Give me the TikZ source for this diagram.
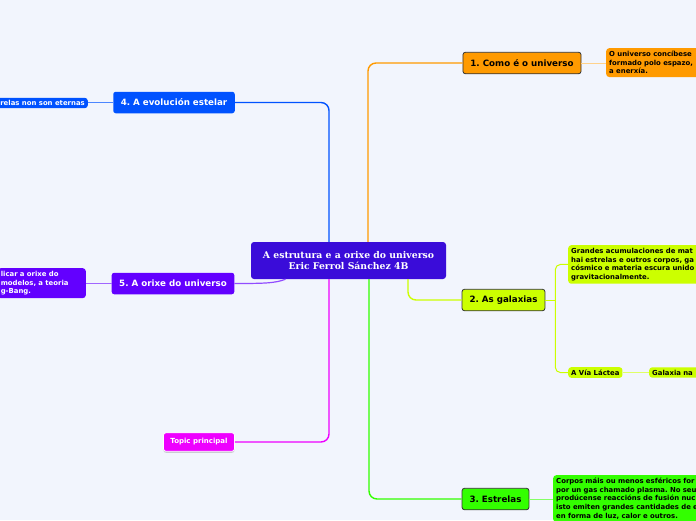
\documentclass[tikz,border=0pt]{standalone}
\usepackage{fontspec}
\newfontfamily\mapsans{DejaVu Sans}
\newfontfamily\mapserif{DejaVu Serif}
\usetikzlibrary{shadows}
\definecolor{page-bg}{HTML}{F2F5FD}
\definecolor{root-fill}{HTML}{3A0CD9}
\definecolor{orange-fill}{HTML}{FF9A00}
\definecolor{lime-fill}{HTML}{CCFF00}
\definecolor{green-fill}{HTML}{33FF00}
\definecolor{blue-fill}{HTML}{0052FF}
\definecolor{violet-fill}{HTML}{6300FF}
\definecolor{magenta-fill}{HTML}{EE00FF}
\tikzset{
  % The 'outline' style gives the thin dark border of the numbered topics
  outline/.style={draw=black!80, line width=0.8pt},
  % The 'central' style is the main title box in the middle
  central/.style={fill=root-fill, text=white, rounded corners=3pt, align=center,
    minimum width=195pt, minimum height=37pt, inner sep=0pt,
    font=\mapserif\fontsize{9.3}{11.5}\selectfont\bfseries},
  % The 'topic-box' style is for the numbered main topics
  topic-box/.style={rounded corners=2.5pt, minimum height=21.5pt, inner xsep=7.5pt, inner ysep=0pt,
    font=\mapsans\fontsize{8.7}{10}\selectfont\bfseries},
  % The 'note-box' style is for the small notes hanging off a topic
  note-box/.style={rounded corners=3pt, inner xsep=3pt, inner ysep=3pt, align=left,
    font=\mapsans\fontsize{6.9}{8.6}\selectfont\bfseries},
  % The 'link' style is for the lines from the centre to the topics
  link/.style={line width=1.4pt, rounded corners=8pt},
  % The 'thin-link' style is for the lines from a topic to its notes
  thin-link/.style={line width=1pt, rounded corners=5pt}
}

\begin{document}
\frenchspacing
\begin{tikzpicture}[x=1pt,y=-1pt]

  % Page background and frame
  \fill[page-bg] (0,0) rectangle (696,520);
  \clip (0,0) rectangle (696,520);

  % Central title
  \node[central] (root) at (348.5,260.5) {A estrutura e a orixe do universo\\Eric Ferrol Sánchez 4B};

  % Numbered topics on the right
  \node[topic-box, outline, fill=orange-fill] (como) at (522,63) {1. Como é o universo};
  \node[topic-box, outline, fill=lime-fill] (galax) at (503.5,300) {2. As galaxias};
  \node[topic-box, outline, fill=green-fill] (estr) at (495.5,499) {3. Estrelas};

  % Numbered topics on the left
  \node[topic-box, fill=blue-fill, text=white] (evol) at (174,102.5) {4. A evolución estelar};
  \node[topic-box, fill=violet-fill, text=white] (orixe) at (173,283.5) {5. A orixe do universo};
  \node[topic-box, fill=magenta-fill, text=white, draw=white, line width=0.8pt, minimum height=18.5pt,
    inner xsep=7pt, font=\mapsans\fontsize{7}{8}\selectfont\bfseries,
    drop shadow={shadow xshift=0pt, shadow yshift=-1.5pt, opacity=0.35}] (topic) at (199,442) {Topic principal};

  % Notes of the topics
  \node[note-box, fill=orange-fill, anchor=north west, text width=110pt] (como-note) at (606,48)
    {O universo concíbese\\formado polo espazo,\\a enerxía.};
  \node[note-box, fill=lime-fill, anchor=north west, text width=140pt] (grand) at (568,245)
    {Grandes acumulaciones de mat\\hai estrelas e outros corpos, ga\\cósmico e materia escura unido\\gravitacionalmente.};
  \node[note-box, fill=lime-fill, inner ysep=2.5pt, anchor=west] (lactea) at (568,372.5) {A Vía Láctea};
  \node[note-box, fill=lime-fill, inner ysep=2.5pt, anchor=west, text width=60pt] (galaxia-na) at (649,372.5) {Galaxia na};
  \node[note-box, fill=green-fill, anchor=north west, text width=150pt] (estr-note) at (553,475)
    {Corpos máis ou menos esféricos for\\por un gas chamado plasma. No seu\\prodúcense reaccións de fusión nuc\\isto emiten grandes cantidades de e\\en forma de luz, calor e outros.};
  \node[note-box, fill=blue-fill, text=white, inner ysep=2.5pt, anchor=east] (evol-note) at (88,103) {relas non son eternas};
  \node[note-box, fill=violet-fill, text=white, anchor=north east, text width=82pt] (orixe-note) at (86,268)
    {licar a orixe do\\modelos, a teoria\\g-Bang.};

  % Lines from the centre
  \draw[link, orange-fill] ([xshift=19.5pt]root.north) |- (como.west);
  \draw[link, blue-fill] ([xshift=-19.5pt]root.north) |- (evol.east);
  \draw[link, lime-fill] ([xshift=59.5pt]root.south) |- (galax.west);
  \draw[link, green-fill] ([xshift=20.5pt]root.south) |- (estr.west);
  \draw[link, magenta-fill] ([xshift=-19.5pt]root.south) |- (topic.east);
  \draw[line width=1.2pt, violet-fill!70] (orixe.east) .. controls +(30,0) and +(-10,4) .. ([xshift=-63pt]root.south);

  % Lines to the notes
  \coordinate (galax-fork) at ([xshift=10pt]galax.east);
  \draw[thin-link, lime-fill] (galax.east) -- (galax-fork);
  \draw[thin-link, lime-fill] (galax-fork) |- (grand.west);
  \draw[thin-link, lime-fill] (galax-fork) |- (lactea.west);
  \draw[thin-link, lime-fill!60] (lactea.east) -- (galaxia-na.west);
  \draw[thin-link, orange-fill!45] (como.east) -- (como-note.west |- como.east);
  \draw[thin-link, green-fill!60] (estr.east) -- (estr-note.west |- estr.east);
  \draw[thin-link, blue-fill!70] (evol.west) -- (evol-note.east |- evol.west);
  \draw[thin-link, violet-fill!60] (orixe.west) -- (orixe-note.east |- orixe.west);

\end{tikzpicture}
\end{document}
